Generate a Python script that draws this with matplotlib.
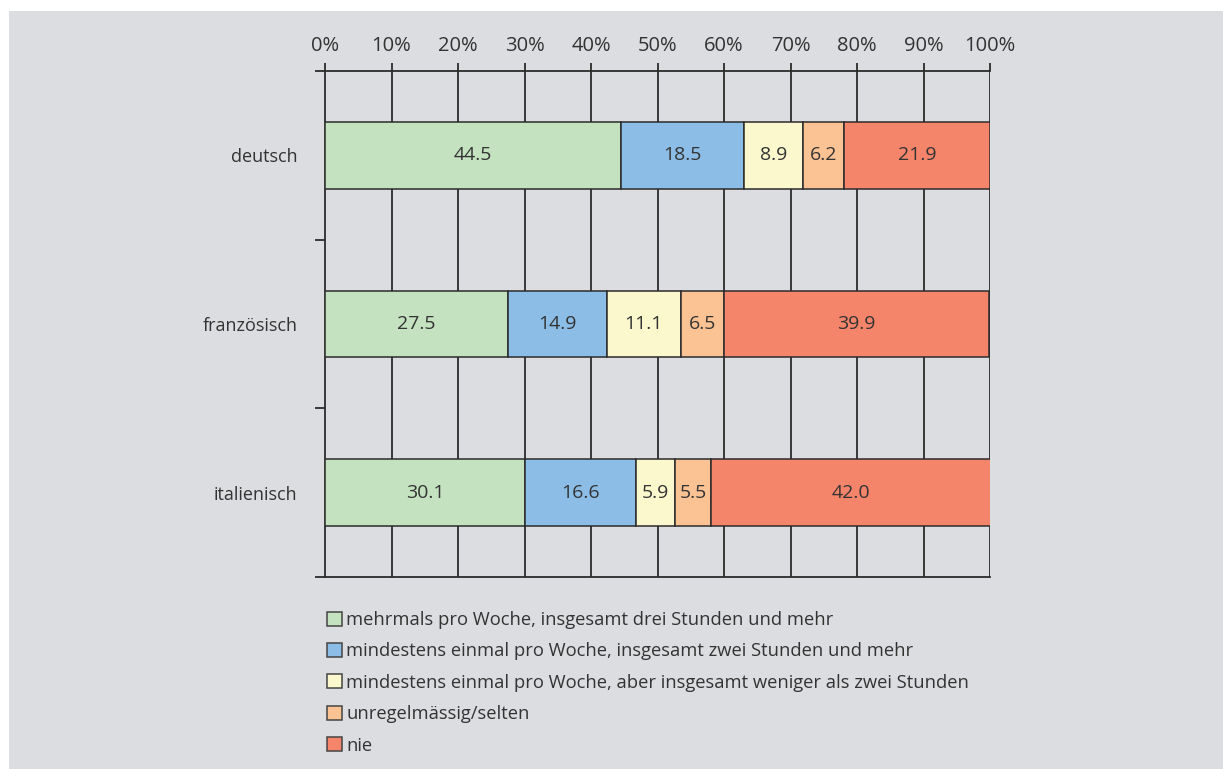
import numpy as np
import matplotlib
matplotlib.use("Agg")
import matplotlib.pyplot as plt
from matplotlib.patches import Rectangle

plt.rcParams['font.family'] = ['Open Sans', 'DejaVu Sans']

# data
languages = ["deutsch", "französisch", "italienisch"]
categories = [
    "mehrmals pro Woche, insgesamt drei Stunden und mehr",
    "mindestens einmal pro Woche, insgesamt zwei Stunden und mehr",
    "mindestens einmal pro Woche, aber insgesamt weniger als zwei Stunden",
    "unregelmässig/selten",
    "nie",
]
mehrmals = [44.5, 27.5, 30.1]
einmal_zwei = [18.5, 14.9, 16.6]
einmal_weniger = [8.9, 11.1, 5.9]
selten = [6.2, 6.5, 5.5]
nie = [21.9, 39.9, 42.0]
colors = ["#c4e2c0", "#8bbde6", "#faf8cc", "#fbc394", "#f5856a"]
xticks = [0, 10, 20, 30, 40, 50, 60, 70, 80, 90, 100]

series = [mehrmals, einmal_zwei, einmal_weniger, selten, nie]
text_col = "#333333"
line_col = "#2b2b2b"
panel = "#dcdde0"

W, H = 1223, 769
fig = plt.figure(figsize=(W / 100, H / 100), dpi=100, facecolor="white")
fig.patches.append(Rectangle((9 / W, 0), 1 - 9 / W, 1 - 11 / H, transform=fig.transFigure,
                             facecolor=panel, edgecolor="none", zorder=-10))

ax = fig.add_axes([325 / W, 1 - 577 / H, (990 - 325) / W, (577 - 71) / H])
ax.set_facecolor("none")

ypos = np.arange(len(languages)) + 0.5
left = np.zeros(len(languages))
handles = []
for vals, col, lab in zip(series, colors, categories):
    bars = ax.barh(ypos, vals, left=left, height=0.395, color=col, edgecolor=line_col,
                   linewidth=1.1, label=lab, zorder=3)
    ax.bar_label(bars, labels=[f"{v:.1f}" for v in vals], label_type="center",
                 color=text_col, fontsize=14, zorder=4)
    left += np.array(vals)
    handles.append(bars)

ax.set_xlim(0, 100)
ax.set_ylim(3, 0)

ax.xaxis.tick_top()
ax.set_xticks(xticks)
ax.set_xticklabels([f"{t}%" for t in xticks], fontsize=14.5, color=text_col)
ax.tick_params(axis="x", which="major", direction="out", length=6, width=1.3,
               color=line_col, pad=5)
for t in xticks[1:]:
    ax.axvline(t, color=line_col, lw=1.3, zorder=1)

ax.set_yticks(ypos)
ax.set_yticklabels(languages, fontsize=13, color=text_col)
ax.tick_params(axis="y", which="major", length=0, pad=20)
ax.set_yticks([0, 1, 2, 3], minor=True)
ax.tick_params(axis="y", which="minor", direction="out", length=7, width=1.3, color=line_col)

for s in ["top", "left", "bottom"]:
    ax.spines[s].set_color(line_col)
    ax.spines[s].set_linewidth(1.3)
ax.spines["right"].set_visible(False)

leg = fig.legend(handles=handles, labels=categories, loc="upper left",
                 bbox_to_anchor=(327 / W, 1 - 611 / H), frameon=False, fontsize=13.2,
                 handlelength=0.8, handleheight=0.8, handletextpad=0.25,
                 labelspacing=0.73, borderpad=0, borderaxespad=0)
for txt in leg.get_texts():
    txt.set_color(text_col)
for h in leg.legend_handles:
    h.set_edgecolor("#444444")
    h.set_linewidth(1.1)

fig.savefig("out.png", dpi=100, facecolor="white")
